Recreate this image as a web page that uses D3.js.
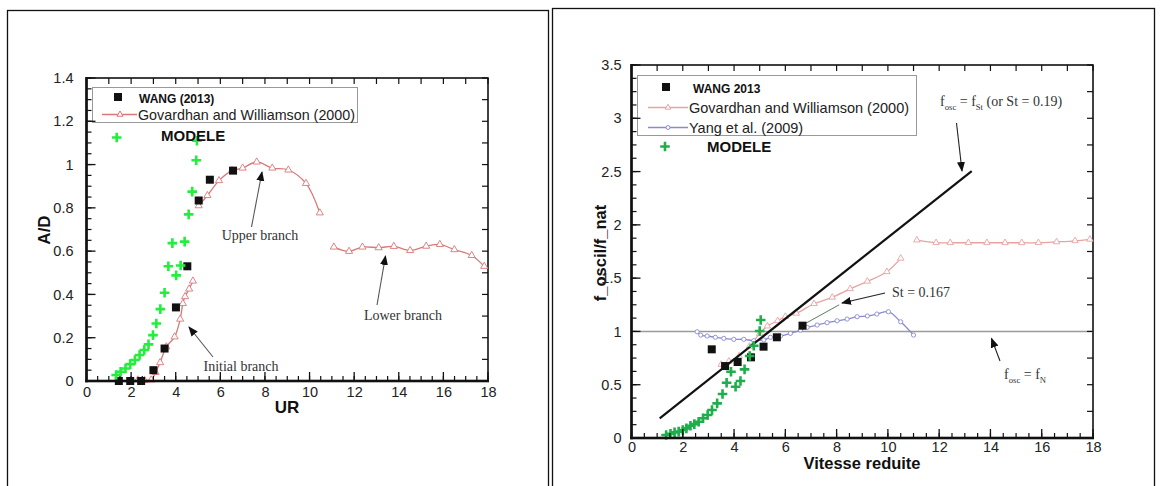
<!DOCTYPE html>
<html>
<head>
<meta charset="utf-8">
<script src="https://cdn.jsdelivr.net/npm/d3@7"></script>
</head>
<body style="margin:0">
<div id="chart"></div>
<script>
// ---------- left panel : A/D vs UR ----------
const left_xticks = [0, 2, 4, 6, 8, 10, 12, 14, 16, 18];
const left_yticks = [0, 0.2, 0.4, 0.6, 0.8, 1, 1.2, 1.4];

const ur_wang = [1.45, 1.96, 2.45, 3.0, 3.5, 4.01, 4.52, 5.03, 5.53, 6.57];
const ad_wang = [0, 0, 0, 0.05, 0.15, 0.34, 0.53, 0.834, 0.93, 0.972];

const ur_modele = [1.33, 1.53, 1.75, 1.96, 2.17, 2.38, 2.59, 2.78, 2.98, 3.13, 3.31, 3.5, 3.67, 3.85, 4.02, 4.22, 4.4, 4.58, 4.74, 4.92, 4.95];
const ad_modele = [0.028, 0.043, 0.058, 0.078, 0.097, 0.12, 0.143, 0.169, 0.212, 0.266, 0.332, 0.408, 0.53, 0.637, 0.488, 0.534, 0.644, 0.77, 0.875, 1.02, 1.11];

const ur_gov_init = [2.3, 2.6, 2.9, 3.1, 3.3, 3.58, 3.95, 4.2, 4.32, 4.42, 4.6, 4.77];
const ad_gov_init = [0.005, 0.003, 0.005, 0.04, 0.085, 0.158, 0.204, 0.286, 0.358, 0.39, 0.425, 0.462];
const ur_gov_upper = [5.03, 5.42, 5.94, 6.52, 7.0, 7.63, 8.33, 9.05, 9.84, 10.46];
const ad_gov_upper = [0.81, 0.857, 0.926, 0.972, 0.984, 1.012, 0.984, 0.975, 0.913, 0.777];
const ur_gov_lower = [11.09, 11.77, 12.37, 13.1, 13.78, 14.51, 15.23, 15.84, 16.49, 17.27, 17.83];
const ad_gov_lower = [0.619, 0.599, 0.619, 0.616, 0.622, 0.603, 0.623, 0.631, 0.607, 0.58, 0.53];

// ---------- right panel : f_oscil/f_nat vs Vitesse reduite ----------
const right_xticks = [0, 2, 4, 6, 8, 10, 12, 14, 16, 18];
const right_yticks = [0, 0.5, 1, 1.5, 2, 2.5, 3, 3.5];

const vr_wang = [3.13, 3.65, 4.14, 4.66, 5.15, 5.67, 6.67];
const f_wang = [0.832, 0.675, 0.713, 0.757, 0.857, 0.945, 1.054];

const vr_modele = [1.35, 1.52, 1.68, 1.84, 2.0, 2.14, 2.3, 2.45, 2.62, 2.79, 2.97, 3.14, 3.34, 3.55, 3.71, 3.88, 4.06, 4.25, 4.41, 4.61, 4.77, 5.0, 5.04];
const f_modele = [0.028, 0.04, 0.053, 0.06, 0.075, 0.09, 0.115, 0.13, 0.153, 0.185, 0.216, 0.263, 0.325, 0.413, 0.519, 0.622, 0.481, 0.535, 0.644, 0.77, 0.866, 1.004, 1.107];

const vr_gov1 = [3.5, 3.8, 4.2, 4.6, 5.0, 5.3, 5.7, 6.0, 6.43, 7.12, 7.83, 8.53, 9.2, 9.96, 10.5];
const f_gov1 = [0.69, 0.72, 0.77, 0.86, 0.98, 1.05, 1.1, 1.14, 1.17, 1.26, 1.32, 1.4, 1.47, 1.56, 1.686];
const vr_gov2 = [11.13, 11.88, 12.43, 13.14, 13.86, 14.57, 15.22, 15.87, 16.58, 17.3, 17.88];
const f_gov2 = [1.857, 1.832, 1.832, 1.832, 1.832, 1.832, 1.832, 1.832, 1.84, 1.85, 1.864];

const vr_yang = [2.56, 2.7, 2.95, 3.27, 3.6, 3.99, 4.38, 4.77, 5.16, 5.42, 5.81, 6.2, 6.59, 6.85, 7.24, 7.63, 8.02, 8.41, 8.8, 9.2, 9.57, 10.02, 10.5, 11.0];
const f_yang = [0.997, 0.966, 0.957, 0.945, 0.935, 0.926, 0.926, 0.913, 0.92, 0.945, 0.957, 0.982, 1.013, 1.038, 1.06, 1.082, 1.1, 1.116, 1.138, 1.145, 1.163, 1.185, 1.09, 0.966];

// St = 0.19 line, f_osc = f_N line, faint St = 0.167 segment
const vr_st = [1.1, 13.27];
const f_st = [0.185, 2.505];
const vr_fn = [0, 18];
const f_fn = [1, 1];
const vr_st167 = [6.75, 8.1];
const f_st167 = [1.07, 1.25];

const SANS = "Liberation Sans, Arial, sans-serif";
const SERIF = "Liberation Serif, Times New Roman, serif";

// scales
const xL = d3.scaleLinear().domain([0, 18]).range([86.5, 488]);
const yL = d3.scaleLinear().domain([0, 1.4]).range([381, 78]);
const xR = d3.scaleLinear().domain([0, 18]).range([631.5, 1093]);
const yR = d3.scaleLinear().domain([0, 3.5]).range([438, 65]);

// ---------- drawing ----------
const svg = d3.select("#chart")
 .append("svg")
  .attr("width", 1162)
  .attr("height", 486)
  .attr("font-family", SANS);

// panel frames
svg.append("rect").attr("x", 7.5).attr("y", 10.5).attr("width", 541).attr("height", 500)
  .attr("fill", "none").attr("stroke", "#111").attr("stroke-width", 1.3);
svg.append("rect").attr("x", 552.5).attr("y", 8.5).attr("width", 602).attr("height", 500)
  .attr("fill", "none").attr("stroke", "#111").attr("stroke-width", 1.3);

// plot boxes (thin outline, same kind of element as the panel frames)
[[xL, yL], [xR, yR]].forEach(([x, y]) => {
  svg.append("rect")
    .attr("x", x(0)).attr("y", y(y.domain()[1]))
    .attr("width", x(18) - x(0)).attr("height", y(0) - y(y.domain()[1]))
    .attr("fill", "none").attr("stroke", "#111").attr("stroke-width", 1.6);
});

svg.append("defs").append("marker")
  .attr("id", "head").attr("viewBox", "0 0 10 10").attr("refX", 9).attr("refY", 5)
  .attr("markerWidth", 10).attr("markerHeight", 10).attr("markerUnits", "userSpaceOnUse")
  .attr("orient", "auto")
 .append("path").attr("d", "M0,1L10,5L0,9Z").attr("fill", "#111");

const fmt = d3.format("~g");

function plusMarks(x, y, xs, ys, color, arm) {
  svg.append("g").selectAll("path")
    .data(d3.zip(xs, ys))
    .join("path")
      .attr("d", d => `M${x(d[0]) - arm},${y(d[1])}h${2 * arm}M${x(d[0])},${y(d[1]) - arm}v${2 * arm}`)
      .attr("stroke", color).attr("stroke-width", 2.6).attr("fill", "none");
}

function squareMarks(x, y, xs, ys, s) {
  svg.append("g").selectAll("rect")
    .data(d3.zip(xs, ys))
    .join("rect")
      .attr("x", d => x(d[0]) - s / 2).attr("y", d => y(d[1]) - s / 2)
      .attr("width", s).attr("height", s)
      .attr("fill", "#111");
}

function curve(x, y, xs, ys, color, width, marker, msize) {
  const pts = d3.zip(xs, ys);
  svg.append("path").datum(pts)
    .attr("fill", "none").attr("stroke", color).attr("stroke-width", width)
    .attr("d", d3.line().x(d => x(d[0])).y(d => y(d[1])).curve(d3.curveCatmullRom));
  svg.append("g").selectAll("path")
    .data(pts)
    .join("path")
      .attr("transform", d => `translate(${x(d[0])},${y(d[1])})`)
      .attr("d", d3.symbol().type(marker).size(msize))
      .attr("fill", "#fff").attr("stroke", color).attr("stroke-width", 0.9);
}

// tick marks as thin filled rects, pointing into the plot
function tickRects(list, fx, fy, w, h) {
  svg.append("g").selectAll("rect")
    .data(list)
    .join("rect")
      .attr("x", fx).attr("y", fy)
      .attr("width", w).attr("height", h)
      .attr("fill", "#111");
}

function axisFrame(x, y, xticks, yticks, xstep, ystep, padX, padY) {
  const left = x(0), right = x(18), bot = y(0), top = y(y.domain()[1]);
  const xminor = d3.range(0, 18.001, xstep / 4);
  const yminor = d3.range(0, y.domain()[1] + 1e-6, ystep / 4);

  tickRects(xticks, d => x(d) - 0.65, bot - 9, 1.3, 9);
  tickRects(xminor, d => x(d) - 0.6, bot - 5, 1.2, 5);
  tickRects(yticks, left, d => y(d) - 0.65, 9, 1.3);
  tickRects(yminor, left, d => y(d) - 0.6, 5, 1.2);
  tickRects(d3.range(0, 18.001, xstep / 2), d => x(d) - 0.6, top, 1.2, 6);
  tickRects(d3.range(0, y.domain()[1] + 1e-6, ystep / 2), right - 6, d => y(d) - 0.6, 6, 1.2);

  // heavy left and bottom axis bars
  svg.append("rect").attr("x", left - 1.3).attr("y", top - 1).attr("width", 2.6).attr("height", bot - top + 2.3).attr("fill", "#111");
  svg.append("rect").attr("x", left - 1.3).attr("y", bot - 1.3).attr("width", right - left + 2.3).attr("height", 2.6).attr("fill", "#111");

  // tick labels from d3 axes
  const gb = svg.append("g").attr("transform", `translate(0,${bot})`)
    .call(d3.axisBottom(x).tickValues(xticks).tickSize(0).tickPadding(padX).tickFormat(fmt));
  const gl = svg.append("g").attr("transform", `translate(${left},0)`)
    .call(d3.axisLeft(y).tickValues(yticks).tickSize(0).tickPadding(padY).tickFormat(fmt));
  gb.select(".domain").remove();
  gl.select(".domain").remove();
  gb.attr("font-family", SANS).attr("font-size", 14.5);
  gl.attr("font-family", SANS).attr("font-size", 14.5);
  gb.selectAll("text").attr("fill", "#222");
  gl.selectAll("text").attr("fill", "#222");
}

function arrow(ax, ay, bx, by, color) {
  svg.append("line").attr("x1", ax).attr("y1", ay).attr("x2", bx).attr("y2", by)
    .attr("stroke", color).attr("stroke-width", 1.1).attr("marker-end", "url(#head)");
}

function note(x, y, t, anchor) {
  return svg.append("text").attr("x", x).attr("y", y).attr("text-anchor", anchor || "start")
    .attr("font-family", SERIF).attr("font-size", 14).attr("fill", "#333").text(t);
}

// serif label with subscripts
function subLabel(x, y, parts, size) {
  const txt = svg.append("text").attr("x", x).attr("y", y)
    .attr("font-family", SERIF).attr("font-size", size).attr("fill", "#333");
  let shift = 0;
  parts.forEach(p => {
    if (p.sub) { txt.append("tspan").attr("font-size", size * 0.62).attr("dy", 4 - shift).text(p.sub); shift = 4; }
    else { txt.append("tspan").attr("dy", -shift).text(p.t); shift = 0; }
  });
}

// ===== LEFT =====
curve(xL, yL, ur_gov_init, ad_gov_init, "#d9787a", 1.3, d3.symbolTriangle, 22);
curve(xL, yL, ur_gov_upper, ad_gov_upper, "#d9787a", 1.3, d3.symbolTriangle, 22);
curve(xL, yL, ur_gov_lower, ad_gov_lower, "#d9787a", 1.3, d3.symbolTriangle, 22);
squareMarks(xL, yL, ur_wang, ad_wang, 8);
plusMarks(xL, yL, ur_modele, ad_modele, "#22ee3c", 4.8);

// legend
svg.append("rect").attr("x", 92.5).attr("y", 87.5).attr("width", 265).attr("height", 35)
  .attr("fill", "#fff").attr("stroke", "#999").attr("stroke-width", 1);
svg.append("rect").attr("x", 114).attr("y", 93).attr("width", 8).attr("height", 8).attr("fill", "#111");
svg.append("text").attr("x", 139).attr("y", 102.5).attr("font-size", 12).attr("font-weight", "bold").attr("fill", "#111").text("WANG (2013)");
svg.append("path").attr("d", "M102,114.5H137").attr("stroke", "#d9787a").attr("stroke-width", 1.3);
svg.append("path").attr("transform", "translate(120,114.5)").attr("d", d3.symbol().type(d3.symbolTriangle).size(16)())
  .attr("fill", "#fff").attr("stroke", "#d9787a");
svg.append("text").attr("x", 138).attr("y", 119.5).attr("font-size", 14.3).attr("fill", "#222").text("Govardhan and Williamson (2000)");
plusMarks(v => v, v => v, [116.7], [137.5], "#22ee3c", 4.8);
svg.append("text").attr("x", 161).attr("y", 140.5).attr("font-size", 15).attr("font-weight", "bold").attr("fill", "#111").text("MODELE");

// annotations
note(260, 240, "Upper branch", "middle");
arrow(251.5, 227, 262, 172, "#555");
note(403, 320, "Lower branch", "middle");
arrow(377, 305, 385.5, 256, "#555");
note(241, 371, "Initial branch", "middle");
arrow(213, 357, 189, 327, "#555");

// titles
svg.append("text").attr("x", 287).attr("y", 413).attr("text-anchor", "middle").attr("font-size", 17).attr("font-weight", "bold").attr("fill", "#111").text("UR");
svg.append("text").attr("transform", "translate(50,230) rotate(-90)").attr("text-anchor", "middle")
  .attr("font-size", 17).attr("font-weight", "bold").attr("fill", "#111").text("A/D");

// ===== RIGHT =====
const lineR = d3.line().x(d => xR(d[0])).y(d => yR(d[1]));
svg.append("path").datum(d3.zip(vr_fn, f_fn)).attr("d", lineR).attr("stroke", "#9a9a9a").attr("stroke-width", 1.6).attr("fill", "none");
svg.append("path").datum(d3.zip(vr_st167, f_st167)).attr("d", lineR).attr("stroke", "#5f7a66").attr("stroke-width", 1).attr("fill", "none");

curve(xR, yR, vr_gov1, f_gov1, "#e8a2a2", 1.3, d3.symbolTriangle, 18);
curve(xR, yR, vr_gov2, f_gov2, "#e8a2a2", 1.3, d3.symbolTriangle, 18);
curve(xR, yR, vr_yang, f_yang, "#8a8ad0", 1.3, d3.symbolCircle, 14);

svg.append("path").datum(d3.zip(vr_st, f_st)).attr("d", lineR).attr("stroke", "#111").attr("stroke-width", 2.2).attr("fill", "none");
squareMarks(xR, yR, vr_wang, f_wang, 8);
plusMarks(xR, yR, vr_modele, f_modele, "#1fae4c", 4.8);

// legend
svg.append("rect").attr("x", 637.5).attr("y", 75.5).attr("width", 279).attr("height", 60)
  .attr("fill", "#fff").attr("stroke", "#999").attr("stroke-width", 1);
svg.append("rect").attr("x", 662).attr("y", 83).attr("width", 8).attr("height", 8).attr("fill", "#111");
svg.append("text").attr("x", 693).attr("y", 92.5).attr("font-size", 12).attr("font-weight", "bold").attr("fill", "#111").text("WANG 2013");
svg.append("path").attr("d", "M648,107.5H688").attr("stroke", "#e8a2a2").attr("stroke-width", 1.3);
svg.append("path").attr("transform", "translate(668,107.5)").attr("d", d3.symbol().type(d3.symbolTriangle).size(14)())
  .attr("fill", "#fff").attr("stroke", "#e8a2a2");
svg.append("text").attr("x", 689).attr("y", 112.5).attr("font-size", 14.5).attr("fill", "#222").text("Govardhan and Williamson (2000)");
svg.append("path").attr("d", "M648,127.5H688").attr("stroke", "#8a8ad0").attr("stroke-width", 1.3);
svg.append("path").attr("transform", "translate(668,127.5)").attr("d", d3.symbol().type(d3.symbolCircle).size(12)())
  .attr("fill", "#fff").attr("stroke", "#8a8ad0");
svg.append("text").attr("x", 689).attr("y", 132.5).attr("font-size", 14.5).attr("fill", "#222").text("Yang et al. (2009)");
plusMarks(v => v, v => v, [665], [146.5], "#1fae4c", 4.8);
svg.append("text").attr("x", 707).attr("y", 151.5).attr("font-size", 15).attr("font-weight", "bold").attr("fill", "#111").text("MODELE");

// annotations
subLabel(940, 106, [{t: "f"}, {sub: "osc"}, {t: " = f"}, {sub: "St"}, {t: " (or St = 0.19)"}], 14);
arrow(956.5, 123, 962, 171, "#222");
note(892, 297, "St = 0.167");
arrow(885, 293, 842, 303, "#222");
subLabel(1004, 379, [{t: "f"}, {sub: "osc"}, {t: " = f"}, {sub: "N"}], 14);
arrow(1000, 361, 991.5, 338.5, "#222");

// titles
svg.append("text").attr("x", 862).attr("y", 469).attr("text-anchor", "middle").attr("font-size", 16.5).attr("font-weight", "bold").attr("fill", "#111").text("Vitesse reduite");
svg.append("text").attr("transform", "translate(606,253) rotate(-90)").attr("text-anchor", "middle")
  .attr("font-size", 16.5).attr("font-weight", "bold").attr("fill", "#111").text("f_oscil/f_nat");

// axes last, so they sit on top of the marks
axisFrame(xL, yL, left_xticks, left_yticks, 2, 0.2, 6, 13);
axisFrame(xR, yR, right_xticks, right_yticks, 2, 0.5, 4, 10);
</script>
</body>
</html>
